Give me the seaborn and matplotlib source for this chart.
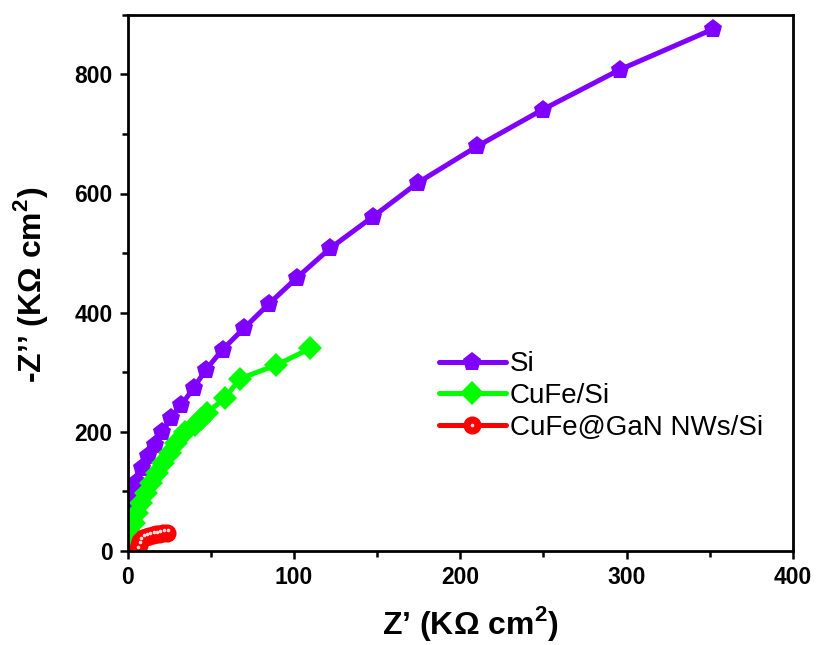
import matplotlib
matplotlib.use("Agg")
import matplotlib.pyplot as plt
import matplotlib.transforms as mtransforms
import seaborn as sns
import pandas as pd
from matplotlib.legend_handler import HandlerTuple
from matplotlib.ticker import MultipleLocator

# ---- data ----
si_x = [0.5, 1.2, 2.2, 3.5, 5.5, 8.8, 12.2, 16.2, 20.8, 26.2, 32.3, 39.7, 47, 57, 70, 85, 101.5, 121.7, 147.4, 174.4, 210, 249.6, 296, 352]
si_y = [45, 62, 78, 97, 116, 139, 159, 178, 200, 223, 245, 274, 304, 338, 374, 415, 458, 508, 561, 618, 679, 741, 808, 876]

cufe_x = [0.3, 0.8, 1.5, 2.2, 3.6, 5.6, 8.2, 11.2, 14.2, 17.6, 21.2, 25.3, 29.3, 34.3, 40.3, 44, 47.7, 58.3, 67.4, 89.4, 109.9]
cufe_y = [3, 13, 21, 30, 46, 63, 80, 97, 114, 130, 147, 164, 181, 200, 212, 222, 232, 256, 289, 312, 340]

gan_x = [5.5, 6.5, 7.5, 9, 11, 13, 15, 17, 19, 21, 23.5]
gan_y = [2, 10, 17, 22, 24, 25.5, 26.5, 27.5, 28.5, 29.5, 30.5]

labels = ["Si", "CuFe/Si", "CuFe@GaN NWs/Si"]
colors = ["#7F00FF", "#00FF00", "#FF0000"]
x_ticks = [0, 100, 200, 300, 400]
y_ticks = [0, 200, 400, 600, 800]

sns.set_theme(style="ticks")
plt.rcParams["font.family"] = ["Liberation Sans", "DejaVu Sans"]
plt.rcParams["mathtext.fontset"] = "custom"
plt.rcParams["mathtext.rm"] = "Liberation Sans"
plt.rcParams["mathtext.bf"] = "Liberation Sans:bold"
for k in ["text.color", "axes.labelcolor", "xtick.color", "ytick.color",
          "xtick.labelcolor", "ytick.labelcolor"]:
    plt.rcParams[k] = "black"

fig = plt.figure(figsize=(8.19, 6.45), dpi=100)
ax = fig.add_axes([0.156, 0.146, 0.812, 0.831])

df_si = pd.DataFrame({"x": si_x, "y": si_y})
df_cu = pd.DataFrame({"x": cufe_x, "y": cufe_y})
df_ga = pd.DataFrame({"x": gan_x, "y": gan_y})

sns.lineplot(data=df_si, x="x", y="y", sort=False, color=colors[0], lw=3.6,
             marker="p", markersize=14, markeredgewidth=0, ax=ax, legend=False)
sns.lineplot(data=df_cu, x="x", y="y", sort=False, color=colors[1], lw=3.6,
             marker="D", markersize=12, markeredgewidth=0, ax=ax, legend=False)
sns.lineplot(data=df_ga, x="x", y="y", sort=False, color=colors[2], lw=3.6,
             marker="o", markersize=13, markeredgewidth=0, ax=ax, legend=False)
hi_tr = mtransforms.offset_copy(ax.transData, fig=fig, x=0.8, y=2.0, units="points")
ax.plot(gan_x, gan_y, ls="none", marker="o", markersize=2.6, color="#FFE0E0",
        markeredgewidth=0, transform=hi_tr)

lines = ax.get_lines()
hl_si, hl_cu, hl_ga, hl_hi = lines[0], lines[1], lines[2], lines[3]

ax.set_xlim(0, 400)
ax.set_ylim(0, 900)
ax.set_xticks(x_ticks)
ax.set_yticks(y_ticks)
ax.xaxis.set_minor_locator(MultipleLocator(50))
ax.yaxis.set_minor_locator(MultipleLocator(100))

for s in ax.spines.values():
    s.set_linewidth(2.0)
    s.set_color("black")
ax.tick_params(which="major", direction="out", length=6, width=1.8,
               labelsize=16.5, pad=5, color="black")
ax.tick_params(which="minor", direction="out", length=4, width=1.8, color="black")
for t in ax.get_xticklabels() + ax.get_yticklabels():
    t.set_fontweight("bold")

ax.set_xlabel("Z’ (KΩ cm$^{\\mathbf{2}}$)", fontsize=23, fontweight="bold")
ax.set_ylabel("-Z’’ (KΩ cm$^{\\mathbf{2}}$)", fontsize=23, fontweight="bold")
ax.xaxis.set_label_coords(0.515, -0.1)
ax.yaxis.set_label_coords(-0.117, 0.496)

ax.legend([hl_si, hl_cu, (hl_ga, hl_hi)], labels,
          handler_map={tuple: HandlerTuple(ndivide=1, pad=0)},
          loc="upper left", bbox_to_anchor=(0.468, 0.372), frameon=False,
          fontsize=20, handlelength=2.4, handletextpad=0.15,
          labelspacing=0.2, borderpad=0, borderaxespad=0)

fig.savefig("out.png", dpi=100, facecolor="white")
